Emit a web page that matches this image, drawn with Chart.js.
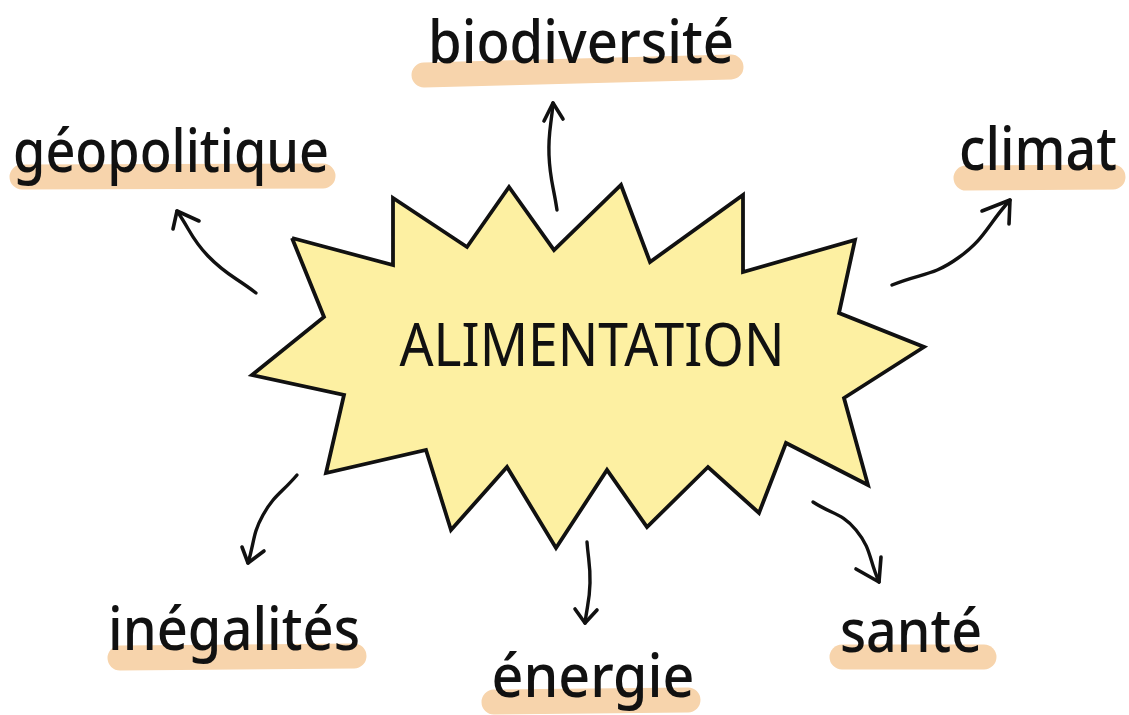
<!DOCTYPE html>
<html>
<head>
<meta charset="utf-8">
<script src="https://cdn.jsdelivr.net/npm/chart.js@4.4.0/dist/chart.umd.min.js"></script>
<style>
  body { margin: 0; background: #fff; }
  #wrap { width: 1129px; height: 715px; }
</style>
</head>
<body>
<div id="wrap"><canvas id="myChart" width="1129" height="715"></canvas></div>
<script>
// centre shape: outline of the star, clockwise from top-left spike
const starX = [292, 393, 393, 467, 509, 554, 621, 650, 743, 743, 855, 839, 924, 844, 868, 786, 759, 708, 647, 607, 556, 507, 451, 426, 326, 344, 252, 324];
const starY = [238, 265, 198, 247, 187, 250, 185, 262, 195, 272, 240, 313, 347, 398, 485, 443, 513, 467, 527, 470, 548, 467, 530, 450, 473, 395, 375, 317];
const centerLabel = 'ALIMENTATION';

// the six topics around it
const topics = ['biodiversité', 'géopolitique', 'climat', 'inégalités', 'énergie', 'santé'];
const topicX = [581, 171, 1038, 234, 593, 911];   // text centre
const topicY = [63, 172, 170, 650, 697, 652];     // baseline
const topicW = [306, 316, 158, 252, 203, 142];    // text width

// highlighter strokes under each word
const markX0 = [424, 22, 966, 120, 494, 842];
const markX1 = [731, 323, 1113, 354, 688, 984];
const markY0 = [75, 177, 178, 658, 702, 657];
const markY1 = [67, 176, 177, 656, 700, 657];

// arrows: tail, bend, tip, then the two head wings
const arrowTail = [[557, 210], [256, 293], [892, 285], [297, 475], [587, 542], [813, 502]];
const arrowBend = [[549, 155], [208, 256], [958, 258], [263, 515], [590, 583], [856, 530]];
const arrowTip  = [[553, 103], [177, 211], [1010, 200], [248, 563], [585, 623], [879, 582]];
const wingA     = [[544, 121], [173, 229], [982, 211], [242, 547], [575, 609], [856, 569]];
const wingB     = [[563, 119], [199, 221], [1009, 224], [264, 551], [597, 610], [881, 557]];

const ink = '#111111';
const peach = '#F7D4AC';
const starFill = '#FDF0A2';

const pt = (p) => ({ x: p[0], y: p[1] });

const datasets = [];

topics.forEach((t, i) => {
  datasets.push({
    label: 'mark ' + t,
    data: [{ x: markX0[i], y: markY0[i] }, { x: markX1[i], y: markY1[i] }],
    showLine: true,
    borderColor: peach,
    borderWidth: 25,
    borderCapStyle: 'round',
    pointRadius: 0,
    order: 3,
  });
});

const starPts = starX.map((x, i) => ({ x: x, y: starY[i] }));
starPts.push(starPts[0]);
datasets.push({
  label: 'star',
  data: starPts,
  showLine: true,
  fill: 'shape',
  backgroundColor: starFill,
  borderColor: ink,
  borderWidth: 3.8,
  borderJoinStyle: 'miter',
  pointRadius: 0,
  order: 2,
});

topics.forEach((t, i) => {
  datasets.push({
    label: 'arrow ' + t,
    data: [pt(arrowTail[i]), pt(arrowBend[i]), pt(arrowTip[i])],
    showLine: true,
    tension: 0.45,
    borderColor: ink,
    borderWidth: 3.4,
    borderCapStyle: 'round',
    pointRadius: 0,
    order: 1,
  });
  datasets.push({
    label: 'head ' + t,
    data: [pt(wingA[i]), pt(arrowTip[i]), pt(wingB[i])],
    showLine: true,
    tension: 0,
    borderColor: ink,
    borderWidth: 3.6,
    borderCapStyle: 'round',
    borderJoinStyle: 'round',
    pointRadius: 0,
    order: 1,
  });
});

const wordsPlugin = {
  id: 'words',
  afterDatasetsDraw(chart) {
    const ctx = chart.ctx;
    const sx = chart.scales.x;
    const sy = chart.scales.y;
    ctx.save();
    ctx.fillStyle = ink;
    ctx.textAlign = 'center';
    ctx.textBaseline = 'alphabetic';

    ctx.font = '500 59px "Noto Sans"';
    topics.forEach((t, i) => {
      const w = ctx.measureText(t).width;
      ctx.save();
      ctx.translate(sx.getPixelForValue(topicX[i]), sy.getPixelForValue(topicY[i]));
      ctx.scale(topicW[i] / w, 1);
      ctx.fillText(t, 0, 0);
      ctx.restore();
    });

    ctx.font = '400 60px "Noto Sans"';
    const w = ctx.measureText(centerLabel).width;
    ctx.translate(sx.getPixelForValue(592), sy.getPixelForValue(366));
    ctx.scale(385 / w, 1);
    ctx.fillText(centerLabel, 0, 0);
    ctx.restore();
  },
};

new Chart('myChart', {
  type: 'scatter',
  data: { datasets: datasets },
  options: {
    responsive: false,
    animation: false,
    layout: { padding: 0 },
    plugins: {
      legend: { display: false },
      tooltip: { enabled: false },
    },
    scales: {
      x: { type: 'linear', min: 0, max: 1129, display: false },
      y: { type: 'linear', min: 0, max: 715, reverse: true, display: false },
    },
  },
  plugins: [wordsPlugin],
});
</script>
</body>
</html>
